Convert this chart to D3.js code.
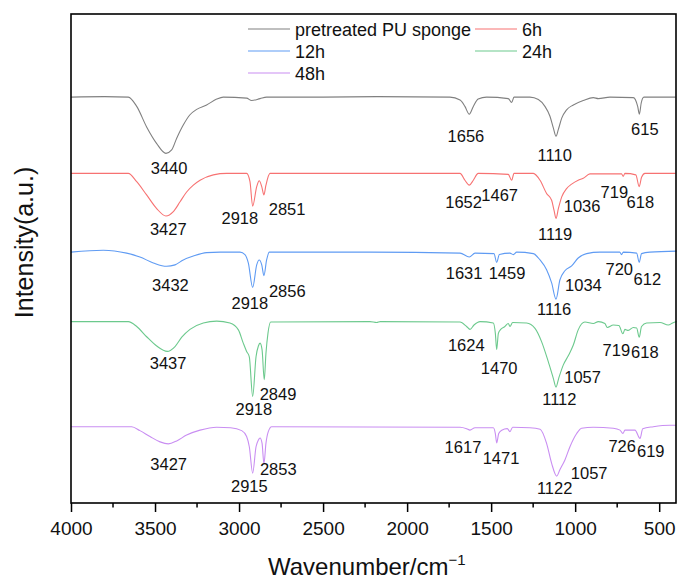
<!DOCTYPE html>
<html>
<head>
    <meta charset="utf-8">
    <script src="https://cdnjs.cloudflare.com/ajax/libs/d3/7.8.5/d3.min.js"></script>
    <style>
        body { margin: 0; background-color: #fff; }
        svg text { font-family: 'Liberation Sans', Arial, sans-serif; fill: #111; }
    </style>
</head>
<body>
    <svg width="679" height="579"></svg>
    <script>
        // series names and colours (legend order)
        var seriesNames = ["pretreated PU sponge", "6h", "12h", "24h", "48h"];
        var seriesColors = ["#808080", "#f77272", "#5f9bf3", "#6cc98d", "#c98ef2"];
        // vertical offset of each trace (a.u.)
        var offsets = [83.0, 67.4, 51.3, 37.1, 15.6];

        // spectra: [wavenumber, relative intensity]
        var pretreated = [[4000,0],[3800,0.1],[3659,0],[3609,-1.9],[3550,-6.1],[3490,-9.5],[3435,-11.5],[3401,-10.8],[3371,-8.4],[3332,-5.7],[3292,-3.6],[3252,-2.5],[3193,-1.6],[3133,-0.4],[3094,0],[2955,-0.2],[2925,-0.7],[2875,-0.3],[2836,0],[2500,0],[2180,0.1],[1745,0],[1685,-0.6],[1656,-1.9],[1630,-3.5],[1606,-1.9],[1577,-0.4],[1527,0],[1398,-0.3],[1378,-1.1],[1364,0],[1269,0],[1219,-0.5],[1180,-1.9],[1150,-3.9],[1130,-6.3],[1114,-8.0],[1100,-6.6],[1080,-4.3],[1051,-2.6],[1011,-1.6],[952,-0.7],[892,-0.1],[862,-0.3],[793,0],[654,-0.1],[628,-1.9],[618,-3.5],[607,-1.2],[591,0],[402,0]];
        var h6 = [[4000,0],[3659,0],[3609,-1.7],[3550,-4.4],[3490,-7.2],[3435,-8.7],[3391,-7.8],[3351,-5.8],[3312,-3.8],[3272,-2.4],[3232,-1.4],[3153,-0.3],[3074,0],[2955,0],[2935,-1.7],[2919,-6.7],[2895,-2.7],[2880,-1.5],[2865,-2.7],[2852,-4.4],[2840,-2.4],[2816,0],[1685,0],[1656,-1.4],[1630,-2.4],[1606,-1.4],[1577,0],[1398,-0.2],[1378,-1.4],[1364,0],[1249,0],[1209,-1.4],[1170,-4.1],[1140,-5.5],[1126,-7.5],[1114,-9.2],[1100,-7.2],[1080,-4.8],[1051,-3.1],[1021,-2.2],[982,-1.4],[952,-1.0],[912,-0.1],[724,-0.1],[714,-0.6],[704,0],[639,-0.3],[619,-2.7],[605,-0.8],[585,0],[402,0]];
        var h12 = [[4000,0],[3808,0.4],[3669,-0.2],[3590,-1.0],[3510,-2.2],[3431,-2.9],[3381,-2.6],[3332,-1.6],[3272,-0.8],[3193,-0.1],[3113,0],[2994,0],[2965,-0.5],[2945,-2.2],[2919,-7.2],[2895,-2.6],[2880,-1.6],[2865,-2.6],[2852,-4.8],[2836,-1.6],[2820,0],[2221,0],[1685,-0.2],[1630,-1.0],[1596,-0.2],[1483,-0.3],[1467,-2.1],[1451,-0.5],[1388,-0.2],[1368,-0.5],[1348,0],[1249,-0.3],[1209,-1.6],[1170,-3.6],[1140,-6.3],[1114,-9.6],[1091,-5.7],[1061,-3.8],[1021,-2.8],[982,-1.2],[932,-0.3],[853,0],[735,0],[724,-0.5],[714,0],[634,-0.2],[619,-2.1],[605,-0.3],[555,0],[396,0.2]];
        var h24 = [[4000,0],[3659,0],[3609,-1.0],[3550,-3.1],[3490,-5.0],[3427,-6.1],[3381,-5.1],[3341,-3.2],[3292,-1.6],[3213,-0.3],[3133,0.1],[3054,-0.3],[3004,-1.7],[2975,-4.4],[2955,-6.1],[2939,-7.2],[2919,-15.3],[2899,-7.2],[2885,-5.0],[2875,-4.4],[2863,-5.8],[2850,-11.9],[2840,-6.5],[2828,-2.4],[2812,-0.1],[2221,0],[2181,-0.2],[2160,0],[1685,-0.1],[1646,-1.0],[1626,-1.6],[1602,-0.7],[1566,0],[1487,-0.3],[1475,-2.4],[1467,-5.7],[1457,-2.4],[1443,-1.6],[1418,-1.0],[1398,-0.4],[1388,-1.0],[1372,-0.2],[1289,-0.3],[1239,-1.4],[1200,-4.1],[1160,-8.2],[1130,-11.6],[1114,-13.4],[1098,-11.6],[1071,-8.9],[1041,-7.0],[1011,-4.8],[982,-1.7],[942,-0.1],[892,-0.4],[862,0],[823,-0.4],[809,-1.2],[773,-0.7],[740,-0.8],[716,-2.5],[704,-1.6],[684,-1.8],[654,-1.2],[634,-1.3],[619,-3.2],[605,-1.0],[575,-0.3],[495,-0.2],[446,-0.7],[420,-0.3],[396,0]];
        var h48 = [[4000,0],[3639,0],[3590,-0.8],[3530,-2.0],[3470,-3.1],[3421,-3.5],[3371,-2.9],[3312,-1.7],[3232,-0.7],[3133,-0.1],[3050,-0.2],[2984,-0.8],[2955,-2.0],[2939,-4.1],[2919,-9.5],[2899,-4.1],[2885,-2.7],[2875,-2.3],[2863,-3.4],[2852,-7.6],[2840,-3.4],[2826,-1.0],[2806,0],[1685,-0.1],[1646,-0.4],[1626,-0.7],[1596,-0.2],[1487,-0.2],[1475,-1.4],[1467,-3.3],[1455,-1.4],[1437,-0.7],[1404,-0.4],[1388,-1.0],[1372,-0.1],[1269,-0.2],[1209,-0.5],[1170,-3.4],[1140,-7.5],[1110,-10.1],[1091,-8.8],[1061,-6.8],[1031,-4.1],[991,-1.4],[962,-0.3],[892,-0.1],[773,-0.3],[733,-0.7],[716,-1.4],[704,-0.7],[644,-0.7],[614,-2.4],[598,-0.4],[535,0],[436,0.3],[400,0.3]];
        var spectra = [pretreated, h6, h12, h24, h48];

        // peak labels of each trace
        var peaksPre = ["3440", "1656", "1110", "615"];
        var peaks6 = ["3427", "2918", "2851", "1652", "1467", "1119", "1036", "719", "618"];
        var peaks12 = ["3432", "2918", "2856", "1631", "1459", "1116", "1034", "720", "612"];
        var peaks24 = ["3437", "2918", "2849", "1624", "1470", "1112", "1057", "719", "618"];
        var peaks48 = ["3427", "2915", "2853", "1617", "1471", "1122", "1057", "726", "619"];
        var peakLabels = [peaksPre, peaks6, peaks12, peaks24, peaks48];

        var xTicks = [4000, 3500, 3000, 2500, 2000, 1500, 1000, 500];
        var xMinorTicks = [3750, 3250, 2750, 2250, 1750, 1250, 750];

        var svg = d3.select("svg"),
            margin = {top: 14, right: 3, bottom: 76, left: 71},
            width = svg.attr("width") - margin.left - margin.right,
            height = svg.attr("height") - margin.top - margin.bottom,
            g = svg.append("g").attr("transform", "translate(" + margin.left + "," + margin.top + ")");

        var x = d3.scaleLinear().domain([4000, 400]).range([0, width]),
            y = d3.scaleLinear().domain([0, 100]).range([height, 0]);

        // label nudges [dx, dy] in px from (x(peak), trace baseline)
        var nudges = [
            [[4, 77], [1, 45], [-2, 64], [5, 38]],
            [[1, 62], [-13, 51], [23, 42], [-2, 35], [3, 28], [0, 67], [13, 39], [-8, 25], [1, 35]],
            [[4, 39], [-3, 57], [24, 45], [-5, 27], [9, 27], [-1.5, 63], [14, 39], [-3, 23], [7, 33]],
            [[2.5, 47], [1, 93], [13.6, 78], [-4, 29], [3, 52], [3, 83], [17, 61], [-6, 34], [5.5, 36]],
            [[1.4, 43], [-4, 65], [14.5, 48], [-8.5, 26], [5, 37], [0, 67], [23.6, 52], [1, 25], [11.6, 30]]
        ];

        var line = d3.line()
            .x(function(d) { return x(d[0]); })
            .curve(d3.curveMonotoneX);

        spectra.forEach(function(s, i) {
            line.y(function(d) { return y(offsets[i] + d[1]); });
            g.append("path")
                .datum(s)
                .attr("fill", "none")
                .attr("stroke", seriesColors[i])
                .attr("stroke-width", 1.1)
                .attr("d", line);

            g.selectAll(".peak" + i)
                .data(peakLabels[i])
                .enter()
                .append("text")
                .attr("class", "peak" + i)
                .attr("x", function(d, j) { return x(+d) + nudges[i][j][0]; })
                .attr("y", function(d, j) { return y(offsets[i]) + nudges[i][j][1]; })
                .attr("text-anchor", "middle")
                .style("font-size", "16.5px")
                .text(function(d) { return d; });
        });

        // x axis with minor ticks
        var xAxis = g.append("g")
            .attr("transform", "translate(0," + height + ")")
            .call(d3.axisBottom(x).tickValues(xTicks).tickSize(9).tickPadding(9.7).tickFormat(d3.format("d")));
        xAxis.select(".domain").remove();
        xAxis.selectAll(".tick line").attr("stroke", "#000").attr("stroke-width", 1.5);
        xAxis.selectAll("text").style("font-size", "19px").style("font-family", "'Liberation Sans', Arial, sans-serif").attr("fill", "#111");

        g.append("g")
            .attr("transform", "translate(0," + height + ")")
            .selectAll("line")
            .data(xMinorTicks)
            .enter()
            .append("line")
            .attr("x1", function(d) { return x(d); })
            .attr("x2", function(d) { return x(d); })
            .attr("y2", 4.5)
            .attr("stroke", "#000")
            .attr("stroke-width", 1.5);

        // frame
        g.append("rect")
            .attr("width", width)
            .attr("height", height)
            .attr("fill", "none")
            .attr("stroke", "#000")
            .attr("stroke-width", 1.6);

        // legend, two columns
        var legend = g.append("g").attr("class", "legend");
        seriesNames.forEach(function(name, i) {
            var col = i % 2, row = Math.floor(i / 2);
            var lx = 177 + col * 227, ly = 22 + row * 22;
            legend.append("line")
                .attr("x1", lx).attr("x2", lx + 42)
                .attr("y1", ly - 7).attr("y2", ly - 7)
                .attr("stroke", seriesColors[i])
                .attr("stroke-width", 1.2);
            legend.append("text")
                .attr("x", lx + 47)
                .attr("y", ly)
                .style("font-size", "18px")
                .text(name);
        });

        // axis titles
        svg.append("text")
            .attr("transform", "translate(33,242.5) rotate(-90)")
            .attr("text-anchor", "middle")
            .style("font-size", "25px")
            .text("Intensity(a.u.)");

        var xt = svg.append("text")
            .attr("x", 268)
            .attr("y", 575)
            .style("font-size", "24px");
        xt.append("tspan").text("Wavenumber/cm");
        xt.append("tspan").attr("dy", -10).style("font-size", "15px").text("\u22121");
    </script>
</body>
</html>
